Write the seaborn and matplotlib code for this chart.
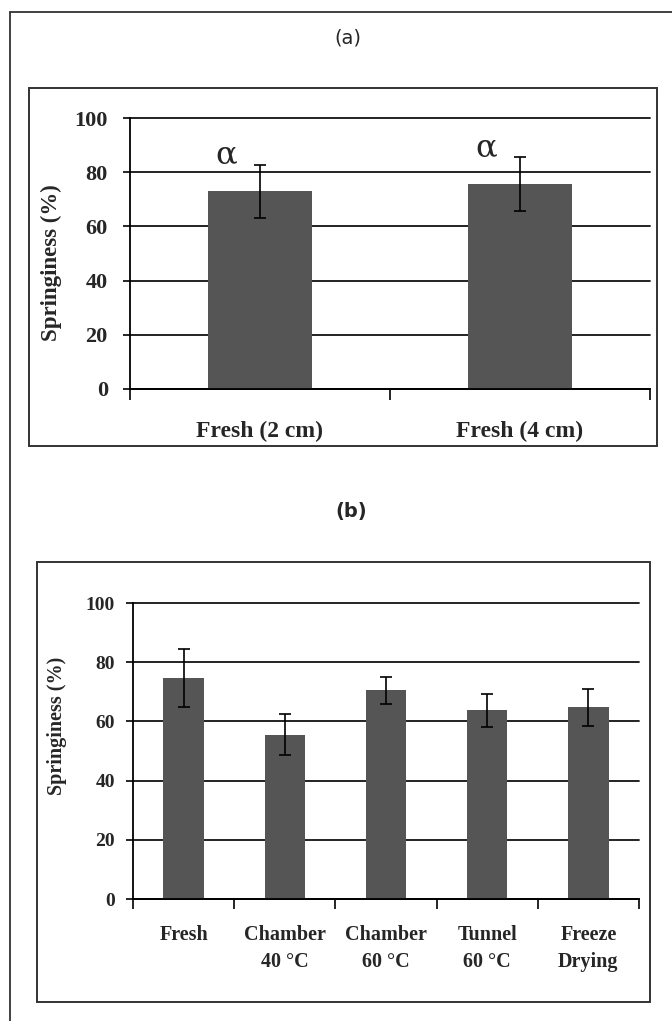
import matplotlib
matplotlib.use("Agg")
import matplotlib.pyplot as plt
import seaborn as sns
import pandas as pd
from matplotlib.lines import Line2D
from matplotlib.patches import Rectangle

# ---- data ----
cats_a = ["Fresh (2 cm)", "Fresh (4 cm)"]
vals_a = [73.0, 75.5]
errs_a = [9.8, 10.0]
letters_a = ["\u03b1", "\u03b1"]

cats_b = ["Fresh", "Chamber\n40 \u00b0C", "Chamber\n60 \u00b0C", "Tunnel\n60 \u00b0C", "Freeze\nDrying"]
vals_b = [74.5, 55.5, 70.5, 63.8, 64.7]
errs_b = [9.8, 7.0, 4.6, 5.6, 6.4]

yticks = [0, 20, 40, 60, 80, 100]
ylabel = "Springiness (%)"

sns.set_theme(style="white")
plt.rcParams["font.family"] = ["Liberation Serif", "DejaVu Serif"]

W, H = 672, 1021
fig = plt.figure(figsize=(W / 100, H / 100), dpi=100)
fig.patch.set_facecolor("white")

def fx(px):
    return px / W

def fy(py):
    return 1 - py / H

BAR = "#555555"
GRID = "#111111"

# outer frame (top + left lines)
fig.add_artist(Line2D([fx(10), 1.0], [fy(12), fy(12)], color="#333333", lw=1.3))
fig.add_artist(Line2D([fx(10), fx(10)], [fy(12), 0.0], color="#333333", lw=1.3))

# panel boxes
fig.add_artist(Rectangle((fx(29), fy(446)), fx(657) - fx(29), fy(88) - fy(446),
                         fill=False, edgecolor="#333333", lw=1.4, transform=fig.transFigure))
fig.add_artist(Rectangle((fx(37), fy(1002)), fx(650) - fx(37), fy(562) - fy(1002),
                         fill=False, edgecolor="#333333", lw=1.4, transform=fig.transFigure))

# titles
fig.text(fx(348), fy(38), "(a)", ha="center", va="center", fontsize=14,
         family=["DejaVu Sans"])
fig.text(fx(351), fy(511), "(b)", ha="center", va="center", fontsize=14,
         family=["DejaVu Sans"], weight="bold")


def style_axes(ax, n, tick_fs, ylab_xy, ylab_fs, ypad, xpad, xticklen):
    ax.set_ylim(0, 100)
    ax.set_xlim(-0.5, n - 0.5)
    ax.set_yticks(yticks)
    ax.set_yticklabels([str(t) for t in yticks], fontsize=tick_fs, weight="bold")
    ax.yaxis.grid(True, color=GRID, lw=1.3)
    for gl in ax.get_ygridlines():
        gl.set_clip_on(False)
    ax.set_axisbelow(True)
    for s in ["top", "right"]:
        ax.spines[s].set_visible(False)
    for s in ["left", "bottom"]:
        ax.spines[s].set_color("black")
        ax.spines[s].set_linewidth(1.3)
    ax.tick_params(axis="y", which="major", direction="out", length=5, width=1.2,
                   color="black", left=True, pad=ypad)
    ax.set_xticks(range(n))
    ax.tick_params(axis="x", which="major", length=0, pad=xpad)
    ax.set_xticks([i - 0.5 for i in range(n + 1)], minor=True)
    ax.tick_params(axis="x", which="minor", direction="out", length=xticklen, width=1.2,
                   color="black", bottom=True)
    ax.set_xlabel("")
    ax.set_ylabel(ylabel, fontsize=ylab_fs, weight="bold")
    ax.yaxis.set_label_coords(*ylab_xy)


# ---- panel (a) ----
ax1 = fig.add_axes([fx(130), fy(389), fx(650) - fx(130), fy(118) - fy(389)])
df_a = pd.DataFrame({"cat": cats_a, "val": vals_a})
sns.barplot(data=df_a, x="cat", y="val", color=BAR, saturation=1, width=0.4,
            errorbar=None, ax=ax1, edgecolor="none")
ax1.errorbar(range(len(cats_a)), vals_a, yerr=errs_a, fmt="none", ecolor="black",
             elinewidth=1.2, capsize=4.5, capthick=1.2)
for i, (v, e, t) in enumerate(zip(vals_a, errs_a, letters_a)):
    ax1.text(i - 0.13, v + e + 0.5, t, ha="center", va="baseline", fontsize=23,
             family=["DejaVu Serif"], clip_on=False)
style_axes(ax1, len(cats_a), 16, (-0.131, 0.465), 16.5, 11, 23, 8)
ax1.set_xticklabels(cats_a, fontsize=17, weight="bold")

# ---- panel (b) ----
ax2 = fig.add_axes([fx(133), fy(899), fx(639) - fx(133), fy(603) - fy(899)])
df_b = pd.DataFrame({"cat": cats_b, "val": vals_b})
sns.barplot(data=df_b, x="cat", y="val", color=BAR, saturation=1, width=0.4,
            errorbar=None, ax=ax2, edgecolor="none")
ax2.errorbar(range(len(cats_b)), vals_b, yerr=errs_b, fmt="none", ecolor="black",
             elinewidth=1.2, capsize=4.5, capthick=1.2)
style_axes(ax2, len(cats_b), 14, (-0.130, 0.584), 14.5, 8, 19, 7)
ax2.set_xticklabels(cats_b, fontsize=14.5, weight="bold", linespacing=1.45, va="top")

fig.savefig("out.png", dpi=100, facecolor="white")
